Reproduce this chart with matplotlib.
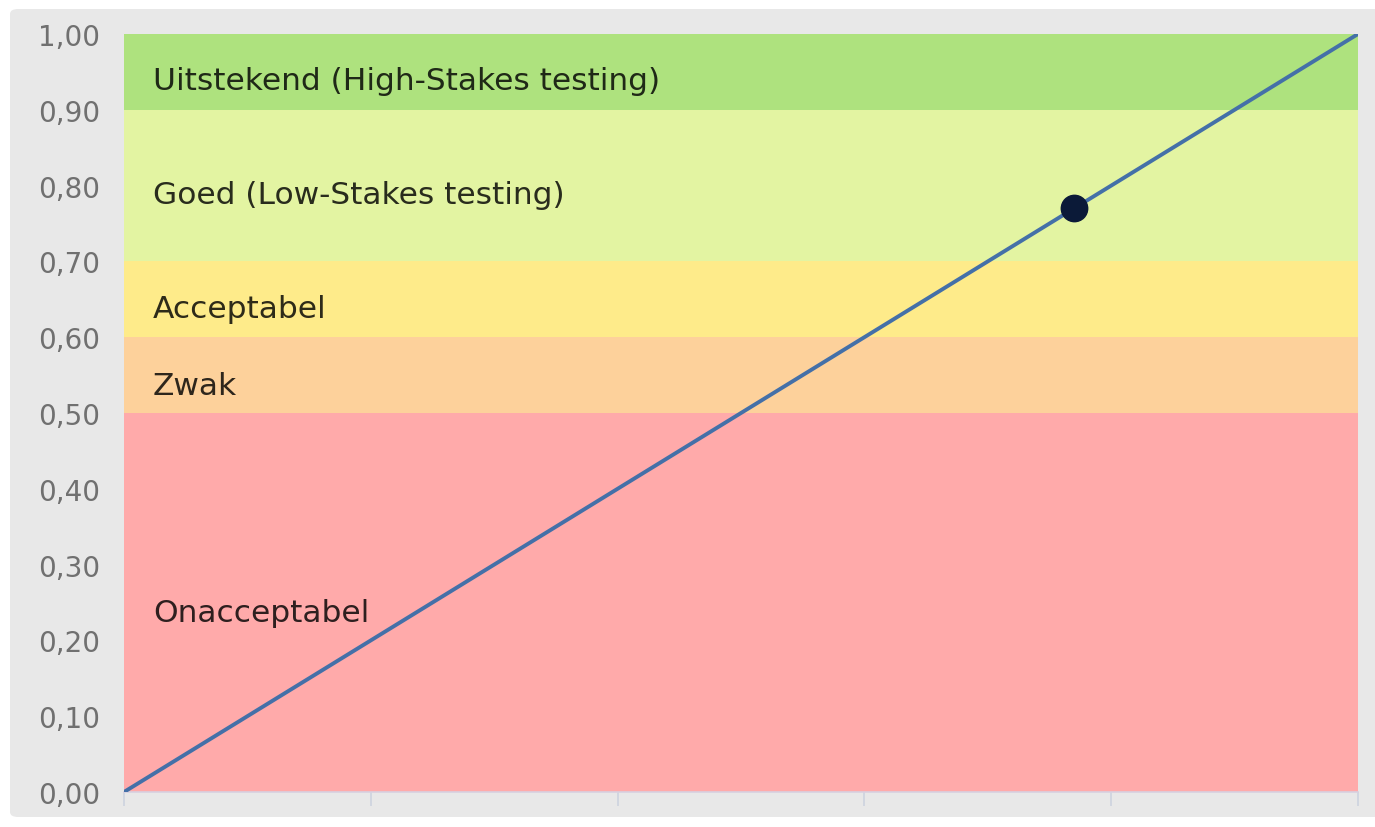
import matplotlib
matplotlib.use("Agg")
import matplotlib.pyplot as plt
from matplotlib.patches import FancyBboxPatch

# Data
band_lower = [0.0, 0.5, 0.6, 0.7, 0.9]
band_upper = [0.5, 0.6, 0.7, 0.9, 1.0]
band_labels = ["Onacceptabel", "Zwak", "Acceptabel", "Goed (Low-Stakes testing)", "Uitstekend (High-Stakes testing)"]
band_label_y = [0.226, 0.525, 0.627, 0.777, 0.927]
band_colors = ["#ffaaaa", "#fdd19b", "#feeb8a", "#e3f4a2", "#aee27e"]
line_x = [0.0, 1.0]
line_y = [0.0, 1.0]
point_x = [0.77]
point_y = [0.77]
y_ticks = [0.0, 0.1, 0.2, 0.3, 0.4, 0.5, 0.6, 0.7, 0.8, 0.9, 1.0]
y_tick_labels = ["0,00", "0,10", "0,20", "0,30", "0,40", "0,50", "0,60", "0,70", "0,80", "0,90", "1,00"]
x_ticks = [0.0, 0.2, 0.4, 0.6, 0.8, 1.0]

fig = plt.figure(figsize=(13.75, 8.28), dpi=100)
fig.patch.set_facecolor("white")
panel = FancyBboxPatch((10/1375, 10/828), 1.0, 1 - 20/828,
                       boxstyle="round,pad=0,rounding_size=0.006",
                       transform=fig.transFigure, facecolor="#e8e8e8",
                       edgecolor="none", zorder=-10)
fig.add_artist(panel)

ax = fig.add_axes([124/1375, 1 - 793/828, (1358-124)/1375, (793-35)/828])
ax.set_zorder(1)
ax.set_facecolor("none")
ax.set_xlim(0, 1)
ax.set_ylim(0, 1)

for lo, hi, c in zip(band_lower, band_upper, band_colors):
    ax.axhspan(lo, hi, facecolor=c, edgecolor="none", zorder=1)
for lab, y in zip(band_labels, band_label_y):
    ax.text(0.0235, y, lab, fontsize=22.5, color="#000000", alpha=0.82,
            va="baseline", ha="left", family="DejaVu Sans", zorder=3)

ax.plot(line_x, line_y, color="#4470a8", lw=2.8, zorder=4, solid_capstyle="butt")
ax.plot(point_x, point_y, "o", color="#0b1a38", markersize=19, zorder=5)

ax.set_yticks(y_ticks)
ax.set_yticklabels(y_tick_labels, fontsize=20, color="#707070")
ax.tick_params(axis="y", length=0, pad=17)
ax.set_xticks(x_ticks)
ax.set_xticklabels([])
ax.tick_params(axis="x", length=10, color="#cdd3df", width=1.2)
for s in ["top", "right", "left"]:
    ax.spines[s].set_visible(False)
ax.spines["bottom"].set_color("#d8d0e0")
ax.spines["bottom"].set_linewidth(1.2)

fig.savefig("out.png", dpi=100)
